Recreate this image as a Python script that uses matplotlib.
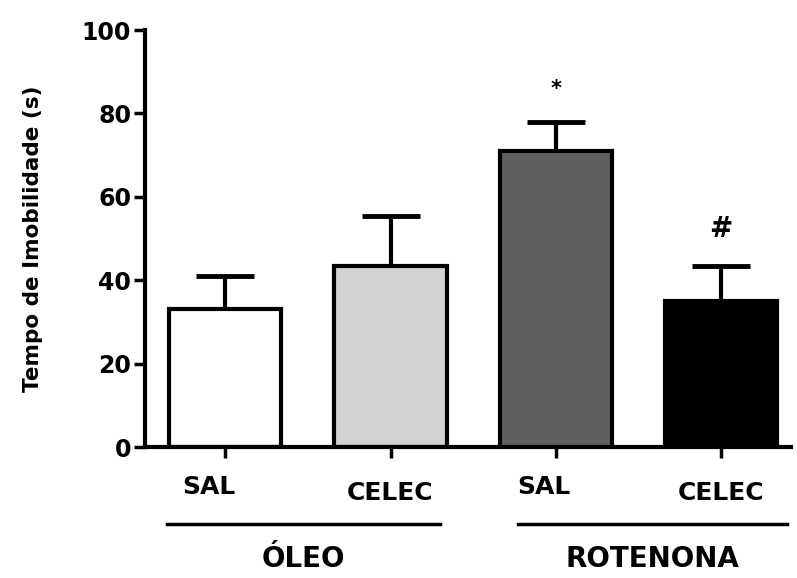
import matplotlib.pyplot as plt

groups = ["SAL", "CELEC", "SAL", "CELEC"]
means = [33, 43.5, 71, 35]
errs = [8, 12, 7, 8.5]
colors = ["#ffffff", "#d2d2d2", "#5f5f5f", "#000000"]
marks = ["", "", "*", "#"]
treatments = ["ÓLEO", "ROTENONA"]

fig = plt.figure(figsize=(7.97, 5.78), dpi=100)
ax = fig.add_axes([0.182, 0.2266, 0.81, 0.7214])

x = range(len(means))
ax.bar(x, means, width=0.68, color=colors, edgecolor="black", linewidth=3, zorder=2)
ax.errorbar(x, means, yerr=[[0] * 4, errs], fmt="none", ecolor="black",
            elinewidth=3, capsize=21, capthick=3.5, zorder=1)

msize = {"*": 15, "#": 20}
for i, m in enumerate(marks):
    if m:
        ax.text(i, means[i] + errs[i] + 5.5, m, ha="center", va="bottom",
                fontsize=msize[m], fontweight="bold")

ax.set_xlim(-0.485, 3.42)
ax.set_ylim(0, 100)
ax.set_yticks([0, 20, 40, 60, 80, 100])
ax.set_xticks(list(x))
ax.set_xticklabels([])
for s in ["top", "right"]:
    ax.spines[s].set_visible(False)
for s in ["left", "bottom"]:
    ax.spines[s].set_linewidth(3)
ax.tick_params(axis="y", length=8, width=2.5, labelsize=17, pad=2)
ax.tick_params(axis="x", length=8, width=2.5)
for lab in ax.get_yticklabels():
    lab.set_fontweight("heavy")
ax.set_ylabel("Tempo de Imobilidade (s)", fontsize=15.5, fontweight="bold", labelpad=28)

# tick labels and group lines below the axis
trans = ax.get_xaxis_transform()
sal_y = -0.095
celec_y = -0.11
offs = [-0.1, 0, -0.07, 0]
for i, g in enumerate(groups):
    yy = sal_y if g == "SAL" else celec_y
    ax.text(i + offs[i], yy, g, transform=trans, ha="center", va="center",
            fontsize=18, fontweight="bold")

lines = [(-0.35, 1.3), (1.77, 3.4)]
for (a, b), t in zip(lines, treatments):
    ax.plot([a, b], [-0.185, -0.185], transform=trans, color="black",
            linewidth=2.5, clip_on=False)
    ax.text((a + b) / 2, -0.268, t, transform=trans, ha="center", va="center",
            fontsize=20, fontweight="bold")

plt.savefig("out.png", dpi=100)
